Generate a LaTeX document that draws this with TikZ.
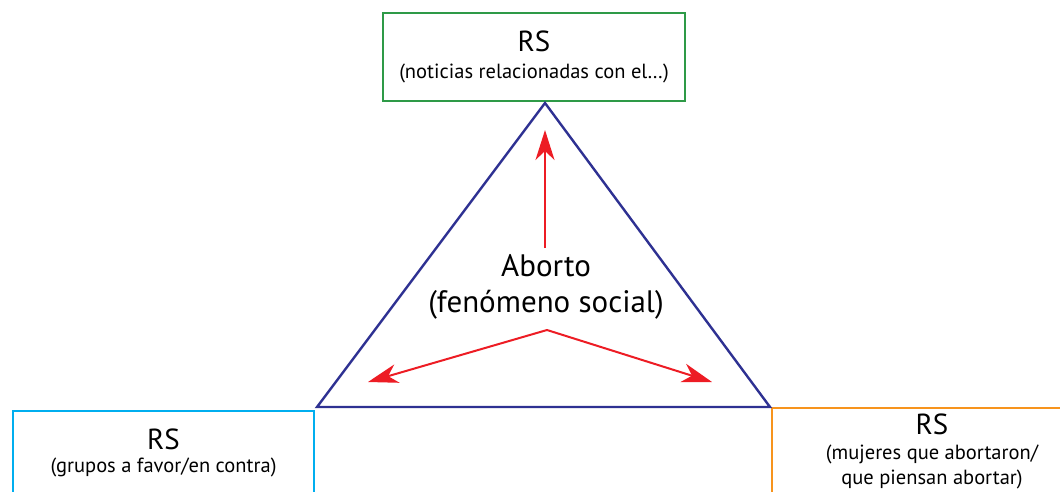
\documentclass[tikz,border=0pt]{standalone}
\usepackage{fontspec}
\setmainfont{PT Sans}
\usetikzlibrary{arrows.meta, positioning}

\definecolor{rsgreen}{RGB}{46,154,71}
\definecolor{rscyan}{RGB}{0,174,239}
\definecolor{rsorange}{RGB}{247,148,29}
\definecolor{triblue}{RGB}{46,49,146}
\definecolor{arrowred}{RGB}{237,28,36}

\newcommand{\rstitle}{\fontsize{29}{30}\selectfont}
\newcommand{\rssub}{\fontsize{20.5}{26}\selectfont}

\begin{document}
\begin{tikzpicture}
   [
      x=1pt, y=-1pt,
      % boxes of the three social representations
      rs box/.style={rectangle, line width=2pt, align=center, inner xsep=0pt, font=\rssub},
      % the triangle
      tri line/.style={triblue, line width=2.4pt, line join=miter},
      % red arrows from the centre
      red arrow/.style={arrowred, line width=2pt, -{Stealth[length=30pt, width=19pt, inset=9pt]}},
      % centre text
      centre text/.style={align=center, font=\fontsize{31}{36}\selectfont, inner sep=0pt}
   ]

    \clip (0,0) rectangle (1060,491);

    % =======================================================
    % Boxes
    % =======================================================
    \node[rs box, draw=rsgreen, minimum width=302pt, minimum height=88pt, inner ysep=0pt]
       (rsnews) at (534,57) {{\rstitle RS}\\[1pt](noticias relacionadas con el…)};
    \node[rs box, draw=rscyan, minimum width=301pt, inner ysep=18pt, anchor=north west]
       (rsgroups) at (12,410) {{\rstitle RS}\\[-3pt](grupos a favor/en contra)\\[20pt]};
    \node[rs box, draw=rsorange, minimum width=320pt, inner ysep=6pt, anchor=north west]
       (rswomen) at (771,407) {{\rstitle RS}\\[-1pt](mujeres que abortaron/\\[-1pt]que piensan abortar)\\[20pt]};

    % =======================================================
    % Triangle and centre
    % =======================================================
    \coordinate (topv) at (545,103);
    \coordinate (leftv) at (317,407);
    \coordinate (rightv) at (770,407);
    \draw[tri line] (topv) -- (leftv) -- (rightv) -- cycle;

    \node[centre text] (aborto) at (546,287) {Aborto\\(fenómeno social)};

    % arrows
    \coordinate (uptip) at (545,130);
    \coordinate (fork) at (547,330);
    \coordinate (lefttip) at (368,382);
    \coordinate (righttip) at (712,382);
    \draw[red arrow] (545,248) -- (uptip);
    \draw[red arrow] (fork) -- (lefttip);
    \draw[red arrow] (fork) -- (righttip);

\end{tikzpicture}
\end{document}
